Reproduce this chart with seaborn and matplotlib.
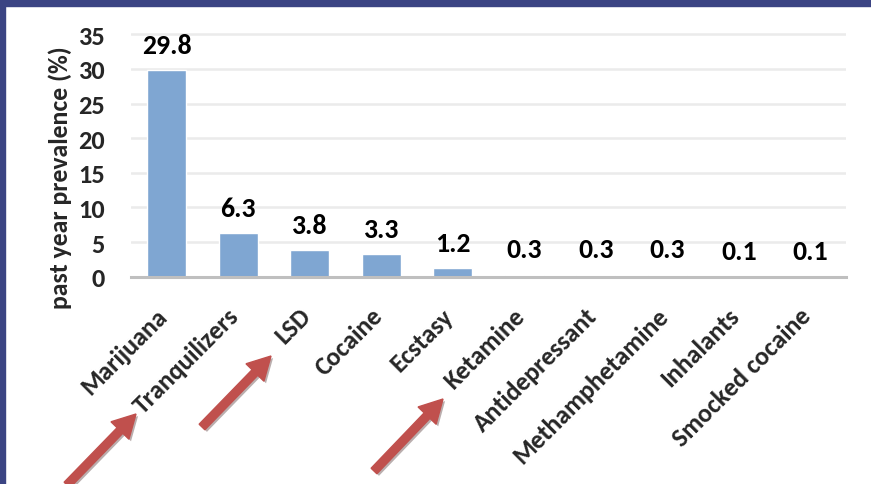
import matplotlib
matplotlib.use("Agg")
import matplotlib.pyplot as plt
import matplotlib.patheffects as pe
import seaborn as sns
import pandas as pd
from matplotlib.patches import FancyArrow, Rectangle
from matplotlib.transforms import IdentityTransform, ScaledTranslation

# Past-year prevalence by substance
substances = ["Marijuana", "Tranquilizers", "LSD", "Cocaine", "Ecstasy",
              "Ketamine", "Antidepressant", "Methamphetamine", "Inhalants",
              "Smocked cocaine"]
prevalence = [29.8, 6.3, 3.8, 3.3, 1.2, 0.3, 0.3, 0.3, 0.1, 0.1]
y_ticks = [0, 5, 10, 15, 20, 25, 30, 35]
y_label = "past year prevalence (%)"

BAR_COLOR = "#7fa6d2"
FRAME_COLOR = "#3b4483"
ARROW_COLOR = "#c0504d"
FONT = ["Carlito", "DejaVu Sans"]

sns.set_theme(style="white")
plt.rcParams["font.family"] = FONT
plt.rcParams["font.weight"] = "bold"

W, H = 871, 485
fig = plt.figure(figsize=(W / 100, H / 100), dpi=100)
fig.patch.set_facecolor("white")

ax = fig.add_axes([131 / W, 1 - 277.7 / H, 715 / W, 249.3 / H])
df = pd.DataFrame({"substance": substances, "prevalence": prevalence})
sns.barplot(data=df, x="substance", y="prevalence", color=BAR_COLOR,
            saturation=1, width=0.55, ax=ax, zorder=3)

ax.set_xlim(-0.5, len(substances) - 0.5)
ax.set_ylim(0, 36)
ax.set_yticks(y_ticks)
ax.set_yticklabels([str(t) for t in y_ticks], family=FONT, fontweight="bold",
                   fontsize=19)
ax.yaxis.grid(True, color="#ebebeb", lw=1.8, zorder=0)
ax.set_axisbelow(True)
for side in ["top", "right", "left"]:
    ax.spines[side].set_visible(False)
ax.spines["bottom"].set_color("#bfbfbf")
ax.spines["bottom"].set_linewidth(2.2)
ax.spines["bottom"].set_zorder(4)

ax.tick_params(axis="y", length=0, pad=19)
ax.tick_params(axis="x", length=0, pad=25)
ax.set_xlabel("")
ax.set_xticks(range(len(substances)))
ax.set_xticklabels(substances, rotation=45, ha="right", va="center",
                   rotation_mode="anchor", family=FONT, fontweight="bold",
                   fontsize=18.5)
shift = ScaledTranslation(-3 / 100, 0, fig.dpi_scale_trans)
for lbl in ax.get_xticklabels():
    lbl.set_transform(lbl.get_transform() + shift)

ax.set_ylabel(y_label, fontsize=18.5, fontweight="bold", family=FONT)
ax.yaxis.set_label_coords(-0.0825, 0.40)

# value labels above each bar
ax.bar_label(ax.containers[0], labels=[f"{v:.1f}" for v in prevalence],
             padding=9.5, fontsize=20, fontweight="bold", color="black",
             family=FONT)

# frame strips along the top and left edges
fig.add_artist(Rectangle((0, 1 - 7 / H), 1, 7 / H, transform=fig.transFigure,
                         color=FRAME_COLOR, zorder=10))
fig.add_artist(Rectangle((0, 0), 5 / W, 1, transform=fig.transFigure,
                         color=FRAME_COLOR, zorder=10))

# highlight arrows (pixel positions, y measured from the top)
arrows = [((67, 486), (136, 415)),
          ((202, 428), (271, 357)),
          ((374, 472), (443, 400))]
for (x0, y0), (x1, y1) in arrows:
    arr = FancyArrow(x0, H - y0, x1 - x0, y0 - y1, width=8, head_width=25,
                     head_length=23, length_includes_head=True,
                     transform=IdentityTransform(), color=ARROW_COLOR,
                     zorder=9)
    arr.set_path_effects([pe.SimplePatchShadow(offset=(1.5, -1.5), alpha=0.35),
                          pe.Normal()])
    fig.add_artist(arr)

fig.savefig("out.png", dpi=100)
